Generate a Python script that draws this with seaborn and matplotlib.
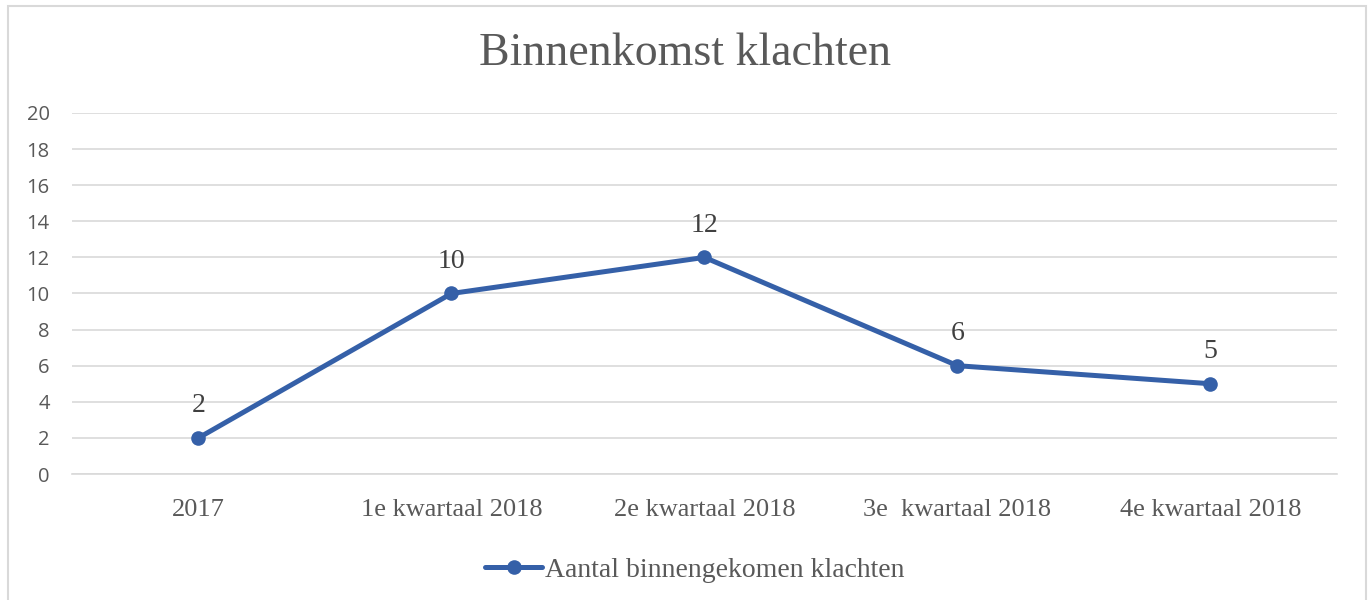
import pandas as pd
import seaborn as sns
import matplotlib.pyplot as plt
from matplotlib.patches import Rectangle

# data
categories = ["2017", "1e kwartaal 2018", "2e kwartaal 2018", "3e  kwartaal 2018", "4e kwartaal 2018"]
klachten = [2, 10, 12, 6, 5]
series_name = "Aantal binnengekomen klachten"
y_ticks = [0, 2, 4, 6, 8, 10, 12, 14, 16, 18, 20]

df = pd.DataFrame({"periode": categories, "aantal": klachten})

sns.set_theme(style="white")
serif = ["Liberation Serif", "DejaVu Serif"]
plt.rcParams["font.family"] = ["Open Sans", "DejaVu Sans"]

line_color = "#3560A8"
text_color = "#595959"

fig = plt.figure(figsize=(13.71, 6.0), dpi=100)
ax = fig.add_axes([0.0525, 0.21, 0.9227, 0.6017])

sns.lineplot(data=df, x="periode", y="aantal", ax=ax, sort=False,
             color=line_color, linewidth=3.6, marker="o", markersize=10.5,
             markeredgewidth=0, label=series_name)

ax.set_xlim(-0.5, len(categories) - 0.5)
ax.set_ylim(0, 20)
ax.set_yticks(y_ticks)
ax.set_xlabel("")
ax.set_ylabel("")
ax.grid(axis="y", color="#D9D9D9", linewidth=1.2)
ax.set_axisbelow(True)
for s in ["top", "right", "left"]:
    ax.spines[s].set_visible(False)
ax.spines["bottom"].set_color("#D9D9D9")
ax.spines["bottom"].set_linewidth(1.2)
ax.tick_params(axis="both", length=0)
ax.tick_params(axis="y", labelsize=14.5, labelcolor=text_color, pad=16)
ax.tick_params(axis="x", labelsize=19, labelcolor=text_color, pad=18)
for lbl in ax.get_xticklabels():
    lbl.set_fontfamily(serif)

for i, v in enumerate(klachten):
    ax.annotate(str(v), (i, v), xytext=(0, 23), textcoords="offset points",
                ha="center", va="center", fontsize=20, color="#404040",
                family=serif)

fig.text(0.5, 0.91, "Binnenkomst klachten", ha="center", va="center",
         fontsize=33, color=text_color, family=serif)

ax.get_legend().remove()
handles, labels = ax.get_legend_handles_labels()
fig.legend(handles, labels, loc="center", bbox_to_anchor=(0.507, 0.05),
           frameon=False, prop={"family": serif, "size": 20},
           labelcolor=text_color, handlelength=2.05, handletextpad=0.1)

fig.add_artist(Rectangle((0.006, -0.01), 0.990, 1.0, transform=fig.transFigure,
                         fill=False, edgecolor="#D9D9D9", linewidth=1.5))

fig.savefig("out.png", dpi=100)
